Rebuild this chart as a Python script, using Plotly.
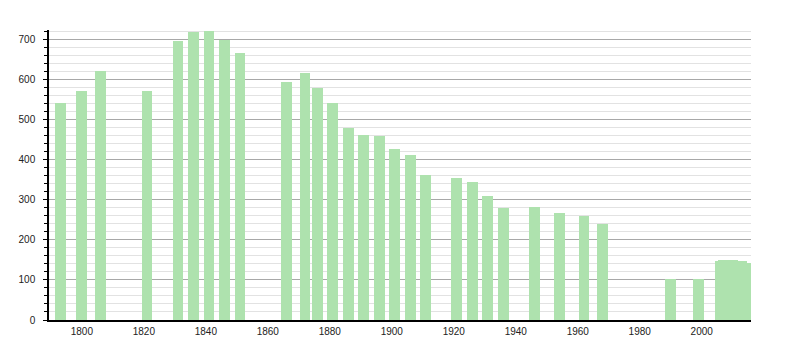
import plotly.graph_objects as go

years = [1793, 1800, 1806, 1821, 1831, 1836, 1841, 1846, 1851,
         1866, 1872, 1876, 1881, 1886, 1891, 1896, 1901, 1906, 1911,
         1921, 1926, 1931, 1936, 1946, 1954, 1962, 1968, 1990, 1999,
         2006, 2007, 2008, 2009, 2010, 2011, 2012, 2013, 2014]
population = [540, 570, 620, 570, 695, 717, 720, 699, 665,
              594, 616, 579, 540, 479, 461, 459, 427, 412, 362,
              354, 344, 310, 278, 282, 267, 258, 240, 103, 103,
              148, 149, 150, 150, 149, 148, 147, 146, 143]
x_ticks = [1800, 1820, 1840, 1860, 1880, 1900, 1920, 1940, 1960, 1980, 2000]
y_ticks = [0, 100, 200, 300, 400, 500, 600, 700]

fig = go.Figure()
fig.add_trace(go.Bar(
    x=years, y=population, width=3.5,
    marker=dict(color="rgb(174,226,174)", line=dict(width=0)),
))

fig.update_layout(
    width=800, height=350,
    margin=dict(l=49, r=49, t=30, b=30),
    paper_bgcolor="white", plot_bgcolor="white",
    showlegend=False,
    font=dict(family="Liberation Sans, Arial, sans-serif", size=10, color="#222"),
    bargap=0,
)
fig.update_xaxes(
    range=[1789.4, 2015.9],
    tickvals=x_ticks, ticktext=[str(v) for v in x_ticks],
    showgrid=False, zeroline=False,
    showline=True, linecolor="black", linewidth=1.5,
    ticks="", ticklabelstandoff=1,
    minor=dict(ticks="", showgrid=False),
)
fig.update_yaxes(
    range=[0, 722.7],
    tickvals=y_ticks, ticktext=[str(v) for v in y_ticks],
    showgrid=True, gridcolor="#a8a8a8", gridwidth=1,
    zeroline=False,
    showline=True, linecolor="black", linewidth=1.5,
    ticks="outside", ticklen=4, tickcolor="black", ticklabelstandoff=6,
    minor=dict(dtick=20, tick0=0, showgrid=True, gridcolor="#e2e2e2",
               ticks="outside", ticklen=3, tickcolor="black"),
)

fig.write_html("out.html")
